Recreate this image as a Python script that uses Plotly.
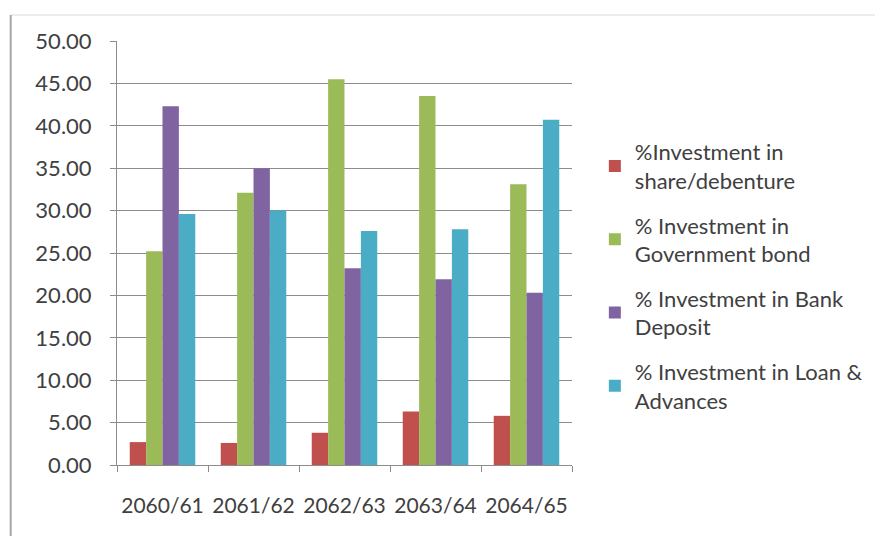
import plotly.graph_objects as go

# Fiscal years (Nepali calendar)
years = ["2060/61", "2061/62", "2062/63", "2063/64", "2064/65"]

# Investment composition, % of total
share_debenture = [2.7, 2.6, 3.8, 6.3, 5.8]
government_bond = [25.2, 32.1, 45.5, 43.5, 33.1]
bank_deposit = [42.3, 35.0, 23.2, 21.9, 20.3]
loan_advances = [29.6, 30.0, 27.6, 27.8, 40.7]

series_names = [
    "%Investment in<br>share/debenture",
    "% Investment in<br>Government bond",
    "% Investment in Bank<br>Deposit",
    "% Investment in Loan &<br>Advances",
]
series_values = [share_debenture, government_bond, bank_deposit, loan_advances]
series_colors = ["#C0504D", "#9BBB59", "#8064A2", "#4BACC6"]

y_ticks = [0, 5, 10, 15, 20, 25, 30, 35, 40, 45, 50]

FONT = "Lato, Open Sans, sans-serif"
TEXT = "#404040"
GRID = "#8c8c8c"

fig = go.Figure()
for i, (name, vals, col) in enumerate(zip(series_names, series_values, series_colors)):
    fig.add_trace(go.Bar(
        x=years, y=vals, name=name,
        marker=dict(color=col, line=dict(width=0)),
        legendgroup=f"g{i}",
    ))

W, H = 880, 536
L, R, T, B = 117, 305, 41, 71
pw, ph = W - L - R, H - T - B

def px_x(p):
    return (p - L) / pw

def px_y(p):
    return (H - B - p) / ph

fig.update_layout(
    width=W, height=H,
    margin=dict(l=L, r=R, t=T, b=B, pad=0),
    paper_bgcolor="white", plot_bgcolor="white",
    barmode="group", bargap=0.28, bargroupgap=0,
    font=dict(family=FONT, size=22, color=TEXT),
    showlegend=True,
    legend=dict(
        x=px_x(598), y=px_y(131), xanchor="left", yanchor="top",
        font=dict(family=FONT, size=22, color=TEXT),
        bgcolor="rgba(0,0,0,0)",
        itemwidth=30, tracegroupgap=13,
        traceorder="grouped",
    ),
    xaxis=dict(
        type="category", automargin=False,
        showline=True, linecolor=GRID, linewidth=1,
        ticks="outside", ticklen=6, tickcolor=GRID, tickson="boundaries",
        ticklabelstandoff=22, tickangle=0,
        showgrid=False,
        tickfont=dict(family=FONT, size=21, color=TEXT),
    ),
    yaxis=dict(
        range=[0, 50], tickvals=y_ticks, tickformat=".2f", automargin=False,
        showline=True, linecolor=GRID, linewidth=1,
        ticks="outside", ticklen=6, tickcolor=GRID,
        ticklabelstandoff=14,
        showgrid=True, gridcolor=GRID, gridwidth=1,
        zeroline=False,
        tickfont=dict(family=FONT, size=22, color=TEXT),
    ),
    shapes=[
        # outer chart frame: top and left edges
        dict(type="line", xref="paper", yref="paper",
             x0=px_x(10), x1=px_x(880), y0=px_y(15), y1=px_y(15),
             line=dict(color="#d9d9d9", width=1)),
        dict(type="line", xref="paper", yref="paper",
             x0=px_x(10), x1=px_x(10), y0=px_y(15), y1=px_y(540),
             line=dict(color="#a6a6a6", width=2)),
    ],
)

fig.write_html("out.html")
